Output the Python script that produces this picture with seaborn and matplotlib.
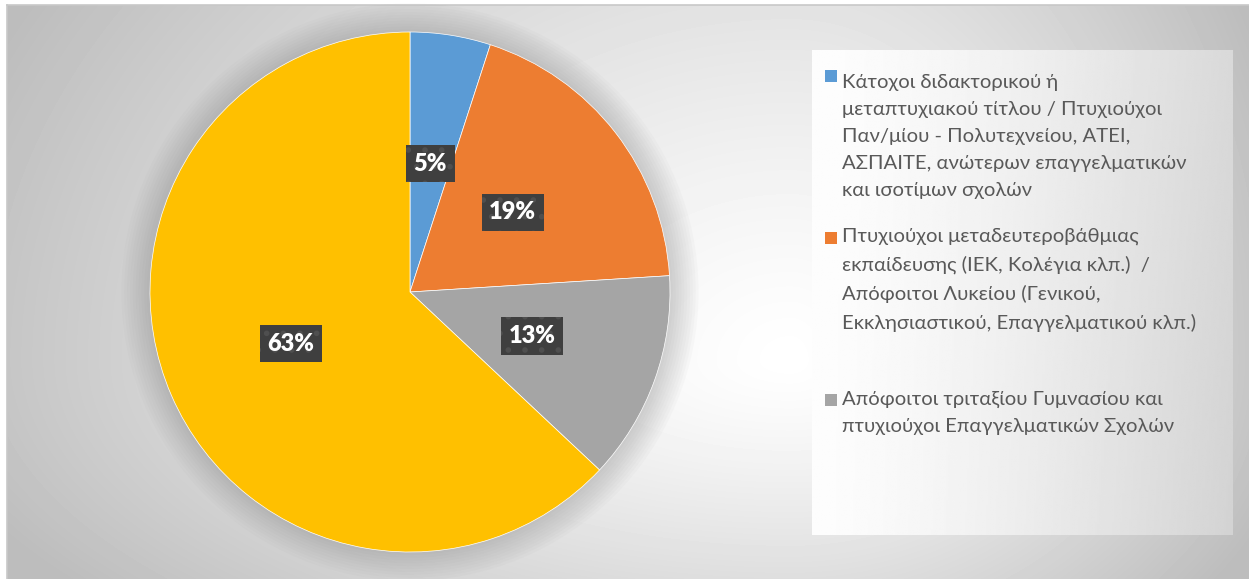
import numpy as np
import matplotlib
matplotlib.use("Agg")
import matplotlib.pyplot as plt
from matplotlib.patches import Rectangle, Circle
import seaborn as sns

sns.set_style("white")
plt.rcParams["font.family"] = ["Lato", "DejaVu Sans"]
plt.rcParams["hatch.linewidth"] = 1.6

# data
shares = [5, 19, 13, 63]
slice_colors = ["#5B9BD5", "#ED7D31", "#A5A5A5", "#FFC000"]
legend_labels = [
    "Κάτοχοι διδακτορικού ή\nμεταπτυχιακού τίτλου / Πτυχιούχοι\nΠαν/μίου - Πολυτεχνείου, ΑΤΕΙ,\nΑΣΠΑΙΤΕ, ανώτερων επαγγελματικών\nκαι ισοτίμων σχολών",
    "Πτυχιούχοι μεταδευτεροβάθμιας\nεκπαίδευσης (ΙΕΚ, Κολέγια κλπ.)  /\nΑπόφοιτοι Λυκείου (Γενικού,\nΕκκλησιαστικού, Επαγγελματικού κλπ.)",
    "Απόφοιτοι τριταξίου Γυμνασίου και\nπτυχιούχοι Επαγγελματικών Σχολών",
]

W, H = 1249, 579
palette = sns.color_palette(slice_colors)


def fx(x):
    return x / W


def fy(y):
    return 1 - y / H


fig = plt.figure(figsize=(W / 100, H / 100), dpi=100, facecolor="white")

# chart area background: soft radial gradient, white in the middle
bg = fig.add_axes([fx(7), 0, 1 - fx(7), fy(5)])
xs = np.arange(7, W)
ys = np.arange(5, H)
X, Y = np.meshgrid(xs, ys)
cx, cy = 790, 360
dx = np.where(X < cx, (X - cx) / 880, (X - cx) / 520)
dy = np.where(Y < cy, (Y - cy) / 700, (Y - cy) / 380)
d = np.clip(np.hypot(dx, dy), 0, 1)
shade = 255 - 66 * d ** 1.25
bg.imshow(shade, cmap="gray", vmin=0, vmax=255, aspect="auto", interpolation="bilinear")
bg.set_xticks([])
bg.set_yticks([])
for side, sp in bg.spines.items():
    sp.set_visible(side in ("left", "top"))
    sp.set_color("#c8c8c8")
    sp.set_linewidth(1.2)

# pie, with a soft halo behind it
ax = fig.add_axes([fx(150), fy(552), 520 / W, 520 / H])
for k in range(1, 11):
    ax.add_patch(Circle((0, 0), 1 + 0.011 * k, facecolor="#7f7f7f", alpha=0.035,
                        edgecolor="none", zorder=0, clip_on=False))
wedges, _, autotexts = ax.pie(
    shares, colors=palette, startangle=90, counterclock=False, radius=1,
    autopct="%1.0f%%", pctdistance=0.5,
    wedgeprops=dict(edgecolor="white", linewidth=0.5),
    textprops=dict(color="white", fontsize=17, fontweight="heavy"),
)
for t in autotexts:
    t.set_bbox(dict(boxstyle="square,pad=0.32", facecolor="#3f3f3f",
                    edgecolor="#4f4f4f", hatch=".", linewidth=0))
ax.set_xlim(-1, 1)
ax.set_ylim(-1, 1)
ax.set_aspect("equal")
ax.axis("off")

# legend box
lax = fig.add_axes([fx(812), fy(535), (1233 - 812) / W, (535 - 50) / H])
gx = np.linspace(0, 1, 200)[None, :]
gy = np.linspace(0, 1, 200)[:, None]
lgrad = 253 - 36 * gx ** 1.4 - 6 * gy * gx
lax.imshow(lgrad, cmap="gray", vmin=0, vmax=255, aspect="auto", interpolation="bilinear")
lax.axis("off")

# legend entries: square key next to the first line of each label
line_step = 29.3
first_baselines = [79, 241, 403]
for label, color, base in zip(legend_labels, palette, first_baselines):
    n_lines = label.count("\n") + 1
    fig.patches.append(Rectangle((fx(825), fy(base + 3)), 12 / W, 12 / H,
                                 transform=fig.transFigure, facecolor=color,
                                 edgecolor="none"))
    fig.text(fx(842), fy(base + (n_lines - 1) * line_step), label, fontsize=14.6,
             color="#595959", va="baseline", ha="left", linespacing=1.72)

fig.savefig("out.png", dpi=100, facecolor="white")
